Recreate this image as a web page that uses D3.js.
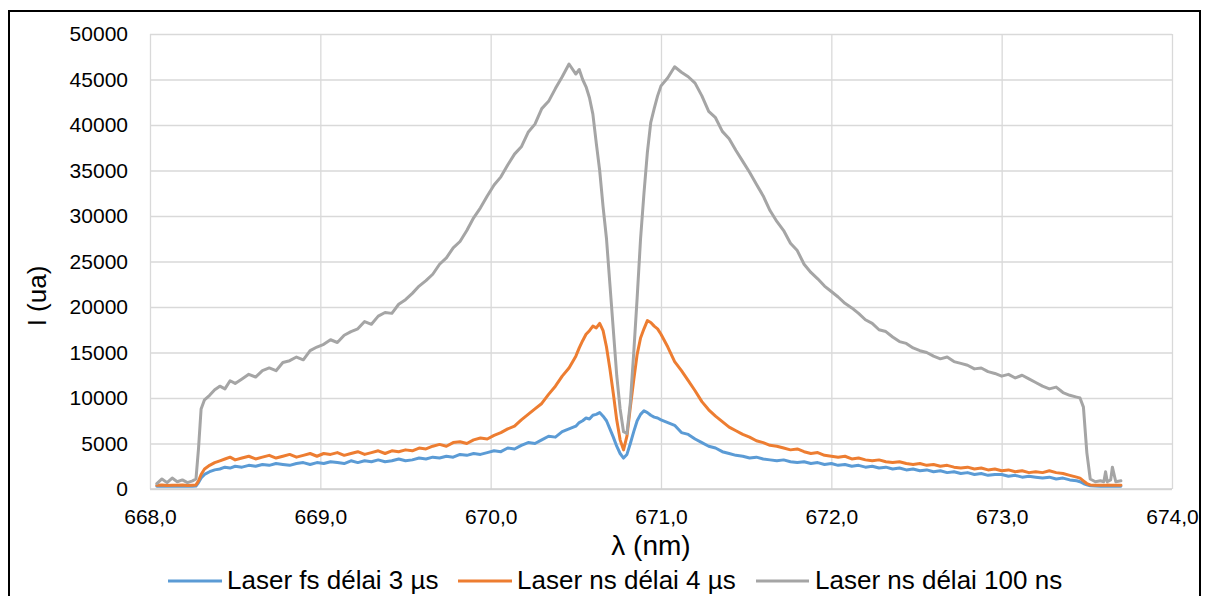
<!DOCTYPE html>
<html>
<head>
<meta charset="utf-8">
<script src="https://cdn.jsdelivr.net/npm/d3@7"></script>
<style>
  html, body { margin: 0; padding: 0; background: #fff; }
  svg { display: block; }
  text { font-family: "Liberation Sans", Arial, sans-serif; fill: #000; }
</style>
</head>
<body>
<svg id="chart" width="1208" height="596"></svg>
<script>
// ---------- DATA ----------
const seriesNames = ["Laser fs délai 3 µs", "Laser ns délai 4 µs", "Laser ns délai 100 ns"];
const seriesColors = ["#5B9BD5", "#ED7D31", "#A5A5A5"];

const xTicks = [668, 669, 670, 671, 672, 673, 674];
const yTicks = [0, 5000, 10000, 15000, 20000, 25000, 30000, 35000, 40000, 45000, 50000];

const wavelength = [
  668.04, 668.07, 668.10, 668.13, 668.16, 668.19, 668.22, 668.25, 668.27, 668.285,
  668.30, 668.32, 668.35, 668.38, 668.41, 668.44, 668.47, 668.50,
  668.54, 668.58, 668.62, 668.66, 668.70, 668.74, 668.78, 668.82, 668.86, 668.90,
  668.94, 668.98, 669.02, 669.06, 669.10, 669.14, 669.18, 669.22, 669.26, 669.30,
  669.34, 669.38, 669.42, 669.46, 669.50, 669.54, 669.58, 669.62, 669.66, 669.70,
  669.74, 669.78, 669.82, 669.86, 669.90, 669.94, 669.98, 670.02, 670.06, 670.10,
  670.14, 670.18, 670.22, 670.26, 670.30, 670.34, 670.38, 670.42, 670.46, 670.50,
  670.52, 670.54, 670.56, 670.58, 670.60, 670.62, 670.64, 670.66, 670.68, 670.70,
  670.72, 670.74, 670.76, 670.78, 670.80, 670.82, 670.84, 670.86, 670.88, 670.90,
  670.92, 670.94, 670.96, 670.98, 671.00,
  671.04, 671.08, 671.12, 671.16, 671.20, 671.24, 671.28, 671.32, 671.36, 671.40,
  671.44, 671.48, 671.52, 671.56, 671.60, 671.64, 671.68, 671.72, 671.76, 671.80,
  671.84, 671.88, 671.92, 671.96, 672.00, 672.04, 672.08, 672.12, 672.16, 672.20,
  672.24, 672.28, 672.32, 672.36, 672.40, 672.44, 672.48, 672.52, 672.56, 672.60,
  672.64, 672.68, 672.72, 672.76, 672.80, 672.84, 672.88, 672.92, 672.96, 673.00,
  673.04, 673.08, 673.12, 673.16, 673.20, 673.24, 673.28, 673.32, 673.36, 673.40,
  673.44,
  673.46, 673.48, 673.50, 673.52, 673.55, 673.58, 673.60, 673.61, 673.62, 673.64,
  673.65, 673.67, 673.70
];

const fs3us = [
  300, 320, 290, 310, 300, 320, 300, 310, 330, 700,
  1200, 1600, 1900, 2100, 2200, 2400, 2300, 2500,
  2400, 2600, 2500, 2700, 2600, 2800, 2700, 2600, 2800, 2900,
  2700, 2900, 2800, 3000, 2900, 2800, 3100, 2900, 3100, 3000,
  3200, 3000, 3100, 3300, 3100, 3200, 3400, 3300, 3500, 3400,
  3600, 3500, 3800, 3700, 3900, 3800, 4000, 4200, 4100, 4500,
  4400, 4800, 5100, 5000, 5400, 5800, 5700, 6300, 6600, 6900,
  7300, 7500, 7800, 7700, 8100, 8200, 8400, 8000, 7500, 6600,
  5700, 4700, 3900, 3400, 3800, 5000, 6300, 7500, 8200, 8600,
  8400, 8100, 7900, 7800, 7600,
  7300, 7000, 6200, 6000, 5500, 5100, 4700, 4500, 4100, 3900,
  3700, 3600, 3400, 3500, 3300, 3200, 3100, 3200, 3000, 2900,
  3000, 2800, 2900, 2700, 2800, 2600, 2700, 2500, 2600, 2400,
  2500, 2300, 2400, 2200, 2300, 2100, 2200, 2000, 2100, 1900,
  2000, 1800, 1900, 1700, 1800, 1600, 1700, 1500, 1600, 1600,
  1400, 1500, 1300, 1400, 1300, 1200, 1300, 1100, 1200, 1000,
  900,
  800, 600, 450, 350, 320, 300, 310, 300, 320, 300,
  310, 300, 310
];

const ns4us = [
  400, 450, 380, 420, 400, 450, 380, 420, 450, 900,
  1600, 2200, 2600, 2900, 3100, 3300, 3500, 3200,
  3400, 3600, 3300, 3500, 3700, 3400, 3600, 3800, 3500, 3700,
  3900, 3600, 3900, 3800, 4000, 3700, 3900, 4100, 3800, 4000,
  4200, 3900, 4200, 4100, 4300, 4200, 4500, 4400, 4700, 4900,
  4700, 5100, 5200, 5000, 5400, 5600, 5500, 5900, 6200, 6600,
  6900, 7600, 8200, 8800, 9400, 10400, 11300, 12400, 13300, 14600,
  15500, 16300, 17000, 17400, 17900, 17700, 18200, 17400, 15600, 13200,
  10500, 7600, 5400, 4300, 5800, 9000, 12000, 14800, 16600, 17600,
  18500, 18300, 17900, 17600, 17000,
  15600, 14000, 13000, 11900, 10800, 9600, 8700, 8000, 7400, 6800,
  6400, 6000, 5700, 5300, 5100, 4800, 4700, 4500, 4300, 4400,
  4100, 3900, 4000, 3700, 3600, 3500, 3600, 3300, 3400, 3200,
  3100, 3200, 3000, 2900, 3000, 2800, 2700, 2800, 2600, 2700,
  2500, 2600, 2400, 2300, 2400, 2200, 2300, 2100, 2200, 2000,
  2100, 1900, 2000, 1800, 1900, 1800, 2000, 1800, 1700, 1500,
  1300,
  1200, 900, 600, 450, 400, 420, 400, 400, 430, 400,
  420, 400, 420
];

const ns100ns = [
  600, 1100, 700, 1200, 800, 1000, 700, 900, 1100, 4500,
  8800, 9800, 10300, 10900, 11300, 11000, 11900, 11600,
  12100, 12600, 12300, 13000, 13300, 13000, 13900, 14100, 14500, 14200,
  15200, 15600, 15900, 16400, 16100, 16900, 17300, 17600, 18400, 18100,
  19000, 19400, 19300, 20300, 20800, 21500, 22300, 22900, 23600, 24700,
  25400, 26500, 27200, 28400, 29800, 30900, 32200, 33400, 34300, 35600,
  36800, 37600, 39200, 40100, 41800, 42600, 44000, 45300, 46700, 45600,
  46100, 45000, 44200, 43000, 41200, 38000, 35000, 31000, 27500, 22500,
  17500, 12500, 8800, 6300, 6100, 9500, 15000, 21000, 27500, 32500,
  37000, 40300, 41800, 43200, 44300,
  45200, 46400, 45800, 45300, 44600, 43200, 41500, 40800, 39300, 38500,
  37200, 36000, 34800, 33500, 32200, 30600, 29400, 28400, 27000, 26200,
  24700, 23800, 23100, 22300, 21700, 21100, 20400, 19900, 19300, 18600,
  18200, 17500, 17300, 16700, 16200, 16000, 15500, 15200, 15000, 14600,
  14300, 14500, 14000, 13800, 13600, 13200, 13300, 12900, 12700, 12400,
  12600, 12200, 12500, 12100, 11700, 11300, 11000, 11200, 10600, 10300,
  10100,
  10000, 9000, 4000, 1100, 800, 900, 800, 1900, 800, 1000,
  2400, 800, 900
];

// ---------- LAYOUT ----------
const svg = d3.select("#chart");
const plot = { left: 150, right: 1172, top: 34, bottom: 489 };

const x = d3.scaleLinear().domain([668, 674]).range([plot.left, plot.right]);
const y = d3.scaleLinear().domain([0, 50000]).range([plot.bottom, plot.top]);

// outer frame
svg.append("rect")
  .attr("x", 9).attr("y", 11).attr("width", 1191).attr("height", 600)
  .attr("fill", "none").attr("stroke", "#000").attr("stroke-width", 2);

// horizontal gridlines
svg.append("g")
  .attr("transform", `translate(${plot.left},0)`)
  .call(d3.axisLeft(y).tickValues(yTicks).tickSize(-(plot.right - plot.left)).tickFormat(""))
  .call(g => g.select(".domain").remove())
  .call(g => g.selectAll("line").attr("stroke", "#D9D9D9").attr("stroke-width", 1.3));

// vertical gridlines
svg.append("g")
  .attr("transform", `translate(0,${plot.top})`)
  .call(d3.axisBottom(x).tickValues(xTicks).tickSize(plot.bottom - plot.top).tickFormat(""))
  .call(g => g.select(".domain").remove())
  .call(g => g.selectAll("line").attr("stroke", "#D9D9D9").attr("stroke-width", 1.3));

// bottom axis line
svg.append("line")
  .attr("x1", plot.left).attr("x2", plot.right)
  .attr("y1", plot.bottom).attr("y2", plot.bottom)
  .attr("stroke", "#D0D0D0").attr("stroke-width", 1.5);

// y tick labels
const yAx = svg.append("g")
  .attr("transform", `translate(${plot.left},0)`)
  .call(d3.axisLeft(y).tickValues(yTicks).tickSize(0).tickPadding(22).tickFormat(d3.format("d")));
yAx.select(".domain").remove();
yAx.selectAll("text").attr("font-size", 21).attr("font-family", "Liberation Sans, Arial, sans-serif").attr("fill", "#000");

// x tick labels
const fmtX = d => d.toFixed(1).replace(".", ",");
const xAx = svg.append("g")
  .attr("transform", `translate(0,${plot.bottom})`)
  .call(d3.axisBottom(x).tickValues(xTicks).tickSize(0).tickPadding(20).tickFormat(fmtX));
xAx.select(".domain").remove();
xAx.selectAll("text").attr("font-size", 21).attr("font-family", "Liberation Sans, Arial, sans-serif").attr("fill", "#000");

// series lines
const allSeries = [fs3us, ns4us, ns100ns];
const line = d3.line().x((d, i) => x(wavelength[i])).y(d => y(d));
allSeries.forEach((vals, k) => {
  svg.append("path")
    .datum(vals)
    .attr("d", line)
    .attr("fill", "none")
    .attr("stroke", seriesColors[k])
    .attr("stroke-width", 3)
    .attr("stroke-linejoin", "round")
    .attr("stroke-linecap", "round");
});

// axis titles
svg.append("text")
  .attr("x", 651).attr("y", 555)
  .attr("text-anchor", "middle")
  .attr("font-size", 28)
  .text("λ (nm)");

svg.append("text")
  .attr("transform", "translate(46,296) rotate(-90)")
  .attr("text-anchor", "middle")
  .attr("font-size", 26)
  .text("I (ua)");

// legend
const legendItems = [
  { x1: 168, x2: 222, tx: 227 },
  { x1: 458, x2: 512, tx: 517 },
  { x1: 756, x2: 809, tx: 815 }
];
legendItems.forEach((it, k) => {
  svg.append("line")
    .attr("x1", it.x1).attr("x2", it.x2)
    .attr("y1", 581).attr("y2", 581)
    .attr("stroke", seriesColors[k]).attr("stroke-width", 3);
  svg.append("text")
    .attr("x", it.tx).attr("y", 589)
    .attr("font-size", 26)
    .text(seriesNames[k]);
});
</script>
</body>
</html>
